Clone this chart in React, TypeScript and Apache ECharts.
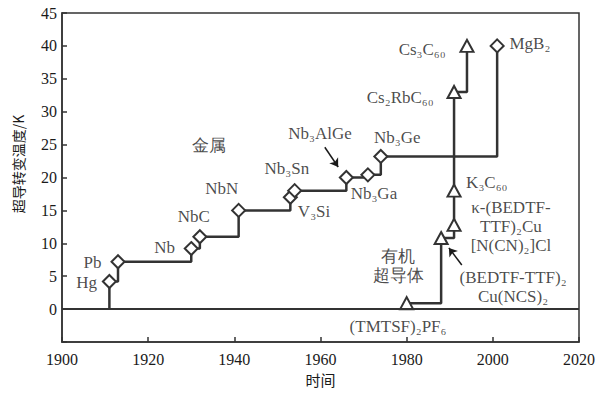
import React, { useEffect, useRef } from "react";
import * as echarts from "echarts";

// ---- data ----
const xTicks = [1900, 1920, 1940, 1960, 1980, 2000, 2020];
const yTicks = [-5, 0, 5, 10, 15, 20, 25, 30, 35, 40, 45];

const metalNames = ["Hg", "Pb", "Nb", "NbC", "NbN", "V3Si", "Nb3Sn", "Nb3AlGe", "Nb3Ga", "Nb3Ge", "MgB2"];
const metalYears = [1911, 1913, 1930, 1932, 1941, 1953, 1954, 1966, 1971, 1974, 2001];
const metalTc = [4.2, 7.2, 9.2, 11, 15, 17, 18, 20, 20.4, 23.2, 40];
const metalStart = [1911, 0];

const organicNames = ["(TMTSF)2PF6", "(BEDTF-TTF)2Cu(NCS)2", "κ-(BEDTF-TTF)2Cu[N(CN)2]Cl", "K3C60", "Cs2RbC60", "Cs3C60"];
const organicYears = [1980, 1988, 1991, 1991, 1991, 1994];
const organicTc = [0.9, 10.8, 12.8, 18, 33, 40];

const annTexts = [
  "Hg", "Pb", "Nb", "NbC", "NbN", "V₃Si", "Nb₃Sn", "Nb₃AlGe", "Nb₃Ga", "Nb₃Ge", "MgB₂",
  "Cs₃C₆₀", "Cs₂RbC₆₀", "K₃C₆₀", "κ-(BEDTF-\nTTF)₂Cu\n[N(CN)₂]Cl", "(BEDTF-TTF)₂\nCu(NCS)₂",
  "(TMTSF)₂PF₆", "金属", "有机\n超导体",
];
const annX = [
  1905.7, 1907.1, 1923.8, 1930.6, 1937.1, 1958.5, 1952.2, 1959.9, 1972.4, 1977.8, 2008.6,
  1983.6, 1978.5, 1998.6, 2004.2, 2004.7, 1978.0, 1934.1, 1978.0,
];
const annY = [
  4.1, 7.1, 9.4, 14.1, 18.4, 14.9, 21.4, 26.7, 17.6, 26.1, 40.4,
  39.5, 32.2, 19.3, 12.6, 3.3, -2.7, 24.9, 6.5,
];

const arrows = [
  [[1961.0, 24.6], [1964.1, 21.6]],
  [[1992.8, 6.7], [1989.8, 9.3]],
];

const yAxisTitle = "超导转变温度/K";
const xAxisTitle = "时间";

const SERIF = "'Liberation Serif', serif";
const INK = "#333";
const TEXT = "#1a1a1a";

export default function App() {
  const ref = useRef<HTMLDivElement>(null);
  useEffect(() => {
    if (!ref.current) return;
    document.body.style.margin = "0";
    const chart = echarts.init(ref.current, undefined, { renderer: "svg" });
    const metalData: any[] = [
      { value: metalStart, symbol: "none" },
      ...metalYears.map((y, i) => ({ name: metalNames[i], value: [y, metalTc[i]] })),
    ];
    const organicData = organicYears.map((y, i) => ({ name: organicNames[i], value: [y, organicTc[i]] }));
    const annData = annTexts.map((t, i) => ({ name: t, value: [annX[i], annY[i]] }));

    chart.setOption({
      animation: false,
      backgroundColor: "#fff",
      grid: { left: 62, right: 21, top: 13, bottom: 52, show: true, borderColor: INK, borderWidth: 1.5 },
      xAxis: {
        type: "value",
        min: xTicks[0],
        max: xTicks[xTicks.length - 1],
        interval: 20,
        axisLine: { show: true, onZero: false, lineStyle: { color: INK, width: 1.5 } },
        axisTick: { show: true, inside: true, length: 5, lineStyle: { color: INK, width: 1.5 } },
        splitLine: { show: false },
        axisLabel: { margin: 9, color: TEXT, fontFamily: SERIF, fontSize: 16, formatter: (v: number) => String(v) },
        name: xAxisTitle,
        nameLocation: "middle",
        nameGap: 30,
        nameTextStyle: { fontFamily: "'Noto Sans CJK SC'", fontSize: 15, color: TEXT },
      },
      yAxis: {
        type: "value",
        min: yTicks[0],
        max: yTicks[yTicks.length - 1],
        interval: 5,
        axisLine: { show: true, onZero: false, lineStyle: { color: INK, width: 1.5 } },
        axisTick: { show: true, inside: true, length: 5, lineStyle: { color: INK, width: 1.5 } },
        splitLine: { show: false },
        axisLabel: {
          margin: 5,
          color: TEXT,
          fontFamily: SERIF,
          fontSize: 16,
          formatter: (v: number) => (v < 0 ? "" : String(v)),
        },
      },
      graphic: [
        {
          type: "text",
          x: 18,
          y: 164,
          rotation: Math.PI / 2,
          style: {
            text: yAxisTitle,
            fontFamily: "'Noto Sans CJK SC'",
            fontSize: 14,
            fill: TEXT,
            textAlign: "center",
            textVerticalAlign: "middle",
          },
        },
      ],
      series: [
        {
          type: "line",
          step: "end",
          data: metalData,
          symbol: "diamond",
          symbolSize: 13,
          showAllSymbol: true,
          itemStyle: { color: "#fff", borderColor: INK, borderWidth: 2 },
          lineStyle: { color: INK, width: 2.5 },
          emphasis: { disabled: true },
          z: 3,
          markLine: {
            silent: true,
            symbol: "none",
            label: { show: false },
            lineStyle: { color: INK, width: 2, type: "solid" },
            data: [{ yAxis: 0 }],
          },
        },
        {
          type: "line",
          step: "end",
          data: organicData,
          symbol: "triangle",
          symbolSize: [13, 12],
          showAllSymbol: true,
          itemStyle: { color: "#fff", borderColor: INK, borderWidth: 2 },
          lineStyle: { color: INK, width: 2.5 },
          emphasis: { disabled: true },
          z: 3,
        },
        {
          type: "scatter",
          data: annData,
          symbolSize: 1,
          itemStyle: { color: "rgba(0,0,0,0)" },
          silent: true,
          z: 4,
          label: {
            show: true,
            position: "inside",
            formatter: (p: any) => p.name,
            color: TEXT,
            fontFamily: SERIF,
            fontSize: 17,
            lineHeight: 19,
            align: "center",
            verticalAlign: "middle",
          },
          markLine: {
            silent: true,
            symbol: ["none", "arrow"],
            symbolSize: 8,
            label: { show: false },
            lineStyle: { color: TEXT, width: 1.5, type: "solid" },
            data: arrows.map((a) => [{ coord: a[0] }, { coord: a[1] }]),
          },
        },
      ],
    });
    return () => chart.dispose();
  }, []);
  return <div ref={ref} style={{ width: 600, height: 394 }} />;
}
